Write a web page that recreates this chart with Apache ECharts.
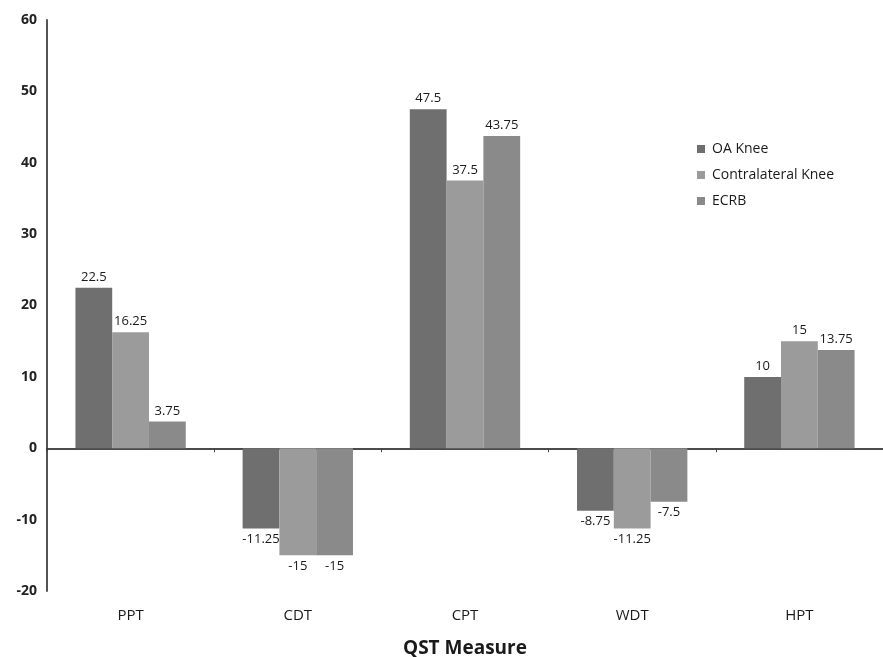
<!DOCTYPE html>
<html>
<head>
<meta charset="utf-8">
<script src="https://cdn.jsdelivr.net/npm/echarts@6/dist/echarts.min.js"></script>
<style>
  html, body { margin: 0; padding: 0; background: #fff; }
  #chart { width: 883px; height: 657px; }
</style>
</head>
<body>
<div id="chart"></div>
<script>
// QST change by measure and site
const categories = ['PPT', 'CDT', 'CPT', 'WDT', 'HPT'];
const oaKnee = [22.5, -11.25, 47.5, -8.75, 10];
const contralateralKnee = [16.25, -15, 37.5, -11.25, 15];
const ecrb = [3.75, -15, 43.75, -7.5, 13.75];
const seriesNames = ['OA Knee', 'Contralateral Knee', 'ECRB'];
const seriesColors = ['#6f6f6f', '#9b9b9b', '#8a8a8a'];

const labelFont = { fontFamily: 'Open Sans', fontSize: 13, color: '#1a1a1a' };

function withLabels(values) {
  return values.map(v => ({
    value: v,
    label: { position: v < 0 ? 'bottom' : 'top', distance: 4 }
  }));
}

const chart = echarts.init(document.getElementById('chart'));
chart.setOption({
  animation: false,
  textStyle: { fontFamily: 'Open Sans' },
  grid: { left: 47, right: 0, top: 20, bottom: 66, containLabel: false, outerBoundsMode: 'none' },
  legend: {
    orient: 'vertical',
    left: 692,
    top: 137,
    itemWidth: 8,
    itemHeight: 8,
    itemGap: 12,
    icon: 'rect',
    textStyle: { fontFamily: 'Open Sans', fontSize: 14, color: '#1a1a1a', padding: [0, 0, 0, 2] },
    data: seriesNames
  },
  xAxis: {
    type: 'category',
    data: categories,
    axisLine: { onZero: true, lineStyle: { color: '#111', width: 1.5 } },
    axisTick: { show: true, length: 4, lineStyle: { color: '#444' } },
    axisLabel: { margin: 17, fontFamily: 'Open Sans', fontSize: 15, color: '#1a1a1a' },
    name: 'QST Measure',
    nameLocation: 'middle',
    nameGap: 48,
    nameTextStyle: { fontFamily: 'Open Sans', fontSize: 19, fontWeight: 'bold', color: '#1a1a1a' }
  },
  yAxis: {
    type: 'value',
    min: -20,
    max: 60,
    interval: 10,
    axisLine: { show: true, onZero: false, lineStyle: { color: '#555', width: 2 } },
    axisTick: { show: false },
    splitLine: { show: false },
    axisLabel: { margin: 10, fontFamily: 'Open Sans', fontSize: 14, fontWeight: 'bold', color: '#222' }
  },
  series: [oaKnee, contralateralKnee, ecrb].map((vals, i) => ({
    name: seriesNames[i],
    type: 'bar',
    data: withLabels(vals),
    barGap: '0%',
    barCategoryGap: '34%',
    itemStyle: { color: seriesColors[i] },
    label: Object.assign({ show: true }, labelFont)
  }))
});
</script>
</body>
</html>
